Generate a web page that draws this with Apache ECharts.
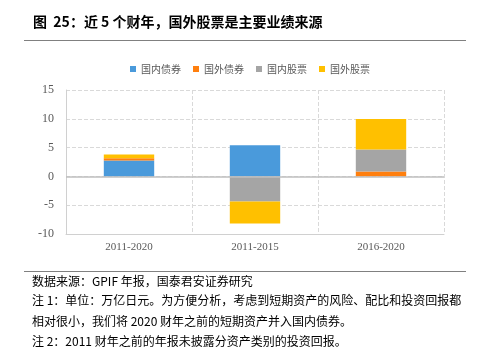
<!DOCTYPE html>
<html><head><meta charset="utf-8">
<script src="https://cdn.jsdelivr.net/npm/echarts@6/dist/echarts.min.js"></script>
<style>html,body{margin:0;padding:0;background:#fff}#c{width:500px;height:361px}</style>
</head><body><div id="c"></div>
<script>
var categories = ['2011-2020', '2011-2015', '2016-2020'];
var seriesNames = ['国内债券', '国外债券', '国内股票', '国外股票'];
var domesticBonds = [2.78, 5.4, 0];
var foreignBonds = [0.36, 0, 0.87];
var domesticStocks = [0, -4.34, 3.82];
var foreignStocks = [0.68, -3.82, 5.27];
var yTicks = [-10, -5, 0, 5, 10, 15];
var colors = ['#4A9ADB', '#FF7F0E', '#A5A5A5', '#FFC000'];

var values = [domesticBonds, foreignBonds, domesticStocks, foreignStocks];
var chart = echarts.init(document.getElementById('c'));
var cjk = '"Noto Sans CJK SC", sans-serif';
var serif = '"Liberation Serif", "Times New Roman", serif';
var series = seriesNames.map(function (n, i) {
  var s = {
    name: n, type: 'bar', stack: 'total', data: values[i], barWidth: '40%',
    itemStyle: { color: colors[i] }
  };
  if (i === 0) {
    s.markLine = { silent: true, symbol: 'none', label: { show: false },
      lineStyle: { color: '#BFBFBF', type: 'solid', width: 1.5 }, data: [{ yAxis: 0 }] };
  }
  return s;
});
chart.setOption({
  animation: false,
  color: colors,
  legend: {
    data: seriesNames, top: 59, left: 'center', icon: 'rect', itemWidth: 6, itemHeight: 6, itemGap: 12,
    textStyle: { fontFamily: cjk, fontSize: 10, color: '#595959' }
  },
  grid: { left: 66, right: 56, top: 90, bottom: 127 },
  xAxis: {
    type: 'category', data: categories,
    axisLine: { onZero: false, lineStyle: { color: '#D0D0D0' } },
    axisTick: { show: false },
    splitLine: { show: true, lineStyle: { color: '#D9D9D9', type: 'dashed' } },
    axisLabel: { fontFamily: serif, fontSize: 11, color: '#595959', margin: 8 }
  },
  yAxis: {
    type: 'value', min: yTicks[0], max: yTicks[yTicks.length - 1], interval: 5,
    axisLine: { show: true, lineStyle: { color: '#D0D0D0' } },
    axisTick: { show: false },
    splitLine: { lineStyle: { color: '#D9D9D9', type: 'dashed' } },
    axisLabel: { fontFamily: serif, fontSize: 12, color: '#595959', margin: 12 }
  },
  series: series,
  graphic: [
    { type: 'text', left: 33, top: 15, style: { text: '图  25：近 5 个财年，国外股票是主要业绩来源', font: 'bold 14px ' + cjk, fill: '#000' } },
    { type: 'line', shape: { x1: 24, y1: 40.5, x2: 466, y2: 40.5 }, style: { stroke: '#808080', lineWidth: 1 } },
    { type: 'line', shape: { x1: 24, y1: 271.5, x2: 466, y2: 271.5 }, style: { stroke: '#808080', lineWidth: 1 } },
    { type: 'text', left: 32, top: 275, style: { text: '数据来源：GPIF 年报，国泰君安证券研究', font: '12px ' + cjk, fill: '#000' } },
    { type: 'text', left: 32, top: 294, style: { text: '注 1：单位：万亿日元。为方便分析，考虑到短期资产的风险、配比和投资回报都', font: '12px ' + cjk, fill: '#000' } },
    { type: 'text', left: 32, top: 315, style: { text: '相对很小，我们将 2020 财年之前的短期资产并入国内债券。', font: '12px ' + cjk, fill: '#000' } },
    { type: 'text', left: 32, top: 335, style: { text: '注 2：2011 财年之前的年报未披露分资产类别的投资回报。', font: '12px ' + cjk, fill: '#000' } }
  ]
});
</script></body></html>
